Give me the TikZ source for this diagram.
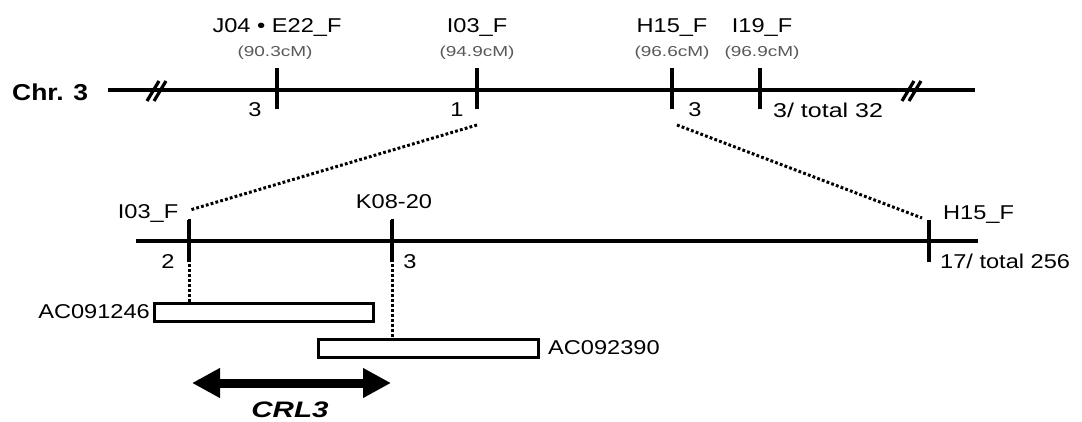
\documentclass[tikz,border=0pt]{standalone}
\usepackage{fontspec}
\usepackage{graphicx}
\setmainfont{Liberation Sans}
\usetikzlibrary{arrows.meta,positioning}
\newcommand{\widen}[2][1.18]{\scalebox{#1}[1]{#2}}

\begin{document}
\begin{tikzpicture}[x=1pt, y=-1pt,
    lbl/.style={font=\fontsize{20}{22}\selectfont, inner sep=0pt},
    cmpos/.style={font=\fontsize{14.4}{16}\selectfont, text=black!65, inner sep=0pt},
    chrline/.style={line width=3.5pt},
    mark4/.style={line width=4.5pt},
    link/.style={line width=3pt, dash pattern=on 2.8pt off 2.2pt},
    clone/.style={draw, line width=3pt, fill=white, inner sep=0pt}]
    \useasboundingbox (0,0) rectangle (1082,421);

    % chromosome 3
    \node[font=\fontsize{23}{25}\selectfont\bfseries, inner sep=0pt, anchor=west] (chr) at (12,92) {\widen[1.15]{Chr. 3}};
    \coordinate (c3a) at (108,90);
    \coordinate (c3b) at (975,90);
    \draw[chrline] (c3a) -- (c3b);
    \foreach \x in {158,913}
      \draw[line width=3.2pt] (\x-11,101) -- (\x+1,81) (\x-4,101) -- (\x+8,81);

    \coordinate (j04) at (277,90);
    \coordinate (i03) at (477,90);
    \coordinate (h15) at (672,90);
    \coordinate (i19) at (760,90);
    \foreach \m in {j04,i03,h15,i19}
      \draw[mark4] ([yshift=-19pt]\m) -- ([yshift=22pt]\m);

    \node[lbl] (j04n) at (277,28) {\widen{J04 \textbullet\ E22\_F}};
    \node[cmpos] (j04c) at (275,53) {\widen[1.32]{(90.3cM)}};
    \node[lbl] (i03n) at (477,28) {\widen{I03\_F}};
    \node[cmpos] (i03c) at (477,53) {\widen[1.32]{(94.9cM)}};
    \node[lbl] (h15n) at (672,28) {\widen{H15\_F}};
    \node[cmpos] (h15c) at (672,53) {\widen[1.32]{(96.6cM)}};
    \node[lbl] (i19n) at (762,28) {\widen{I19\_F}};
    \node[cmpos] (i19c) at (762,53) {\widen[1.32]{(96.9cM)}};

    \node[lbl] (j04r) at (255,110) {\widen{3}};
    \node[lbl] (i03r) at (457,110) {\widen{1}};
    \node[lbl] (h15r) at (695,110) {\widen{3}};
    \node[lbl, anchor=west] (i19r) at (773,110) {\widen[1.25]{3/ total 32}};

    % fine map
    \coordinate (fa) at (136,241);
    \coordinate (fb) at (978,241);
    \draw[chrline] (fa) -- (fb);
    \coordinate (fi03) at (189,241);
    \coordinate (fk08) at (392,241);
    \coordinate (fh15) at (929,241);
    \foreach \m in {fi03,fk08,fh15}
      \draw[mark4] ([yshift=-21pt]\m) -- ([yshift=21pt]\m);

    \node[lbl] (fi03n) at (148,213) {\widen{I03\_F}};
    \node[lbl] (fk08n) at (394,202) {\widen{K08-20}};
    \node[lbl, anchor=west] (fh15n) at (943,215) {\widen{H15\_F}};
    \node[lbl] (fi03r) at (168,262) {\widen{2}};
    \node[lbl] (fk08r) at (410,262) {\widen{3}};
    \node[lbl, anchor=west] (fh15r) at (940,261) {\widen{17/ total 256}};

    % zoom lines
    \coordinate (zl1) at (477,125);
    \coordinate (zl2) at (190,210);
    \coordinate (zr1) at (677,125);
    \coordinate (zr2) at (922,218);
    \draw[link] (zl1) -- (zl2);
    \draw[link] (zr1) -- (zr2);

    % clones
    \node[clone, minimum width=219pt, minimum height=18pt] (ac1) at (263.5,312) {};
    \node[clone, minimum width=220pt, minimum height=18pt] (ac2) at (428,348) {};
    \node[lbl, anchor=east] (ac1n) at (150,312) {\widen{AC091246}};
    \node[lbl, anchor=west] (ac2n) at (548,348) {\widen{AC092390}};
    \draw[link] ([yshift=22pt]fi03) -- (fi03 |- ac1.north);
    \draw[link] ([yshift=22pt]fk08) -- (fk08 |- ac2.north);

    % gene
    \coordinate (g1) at (192,383);
    \coordinate (g2) at (391,383);
    \draw[line width=9pt, {Triangle[length=28pt,width=28pt]}-{Triangle[length=28pt,width=28pt]}] (g1) -- (g2);
    \node[font=\fontsize{22.4}{24}\selectfont\bfseries\itshape, inner sep=0pt] (crl) at (290,410) {\widen[1.32]{CRL3}};
\end{tikzpicture}
\end{document}
